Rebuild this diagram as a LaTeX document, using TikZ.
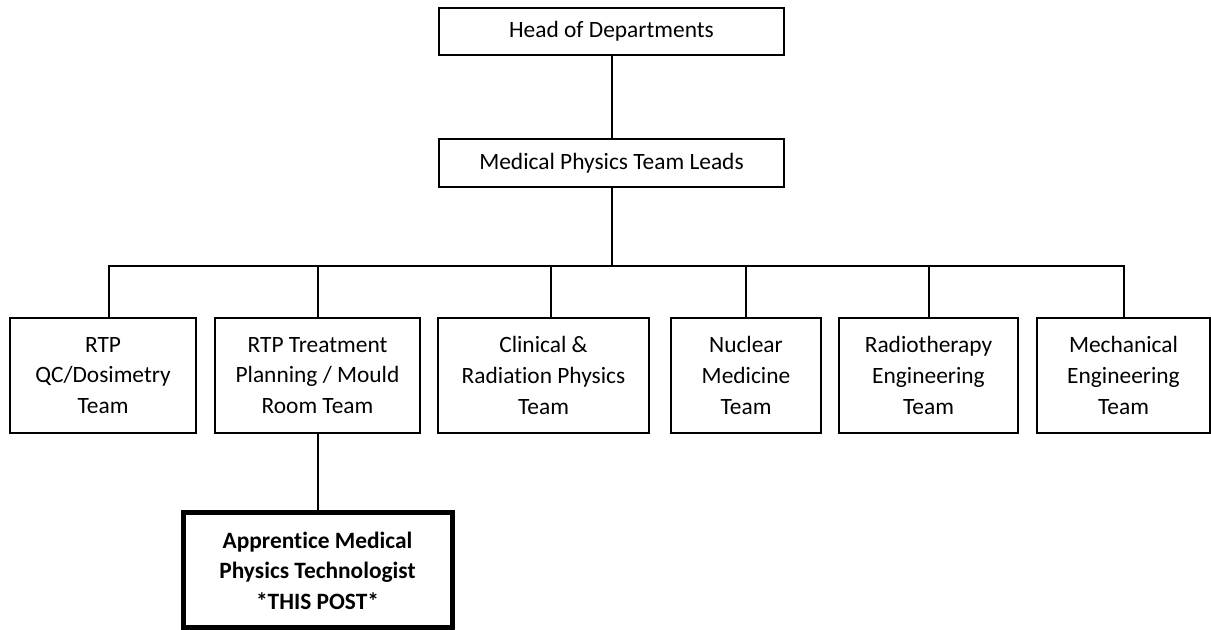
\documentclass[tikz,border=0pt]{standalone}
\usepackage{fontspec}
\setmainfont{Carlito}[Ligatures=NoCommon]
\usepackage{tikz}

\begin{document}
\begin{tikzpicture}[x=0.5pt, y=-0.5pt, line width=1pt,
		box/.style={rectangle, draw, align=center, inner sep=0pt, font=\fontsize{11.7}{15.3}\selectfont},
		teambox/.style={box, minimum height=57.5pt}]
			\useasboundingbox (0,0) rectangle (1211,630);
			
			\node[box, minimum width=172.5pt, minimum height=23.5pt] (head) at(611.5,31.5){Head of Departments};
			\node[box, minimum width=172.5pt, minimum height=24pt] (leads) at(611.5,163){Medical Physics Team Leads};
			\coordinate (bar) at (611.5,266);
			\draw (head) -- (leads);
			\draw (leads) -- (bar);
			
			\node[teambox, minimum width=93pt] (qc) at(103,375.5){RTP\\QC/Dosimetry\\Team};
			\node[teambox, minimum width=102.5pt] (planning) at(317.5,375.5){RTP Treatment\\Planning / Mould\\Room Team};
			\node[teambox, minimum width=105.5pt] (clinical) at(543.5,375.5){Clinical \&\\Radiation Physics\\Team};
			\node[teambox, minimum width=75pt] (nuclear) at(746,375.5){Nuclear\\Medicine\\Team};
			\node[teambox, minimum width=89.5pt] (radio) at(928.5,375.5){Radiotherapy\\Engineering\\Team};
			\node[teambox, minimum width=86.5pt] (mech) at(1123.5,375.5){Mechanical\\Engineering\\Team};
			\draw ([xshift=3pt]qc.north) |- (bar);
			\draw ([xshift=3.5pt]clinical.north) |- (bar);
			\foreach \team in {planning, nuclear, radio, mech}
				\draw (\team.north) |- (bar);
			
			\node[box, line width=2.5pt, minimum width=134.5pt, minimum height=57.5pt, font=\fontsize{11.7}{15.3}\selectfont\bfseries] (post) at(317.5,570.5){Apprentice Medical\\Physics Technologist\\*THIS POST*};
			\draw (planning) -- (post);
		\end{tikzpicture}
\end{document}
